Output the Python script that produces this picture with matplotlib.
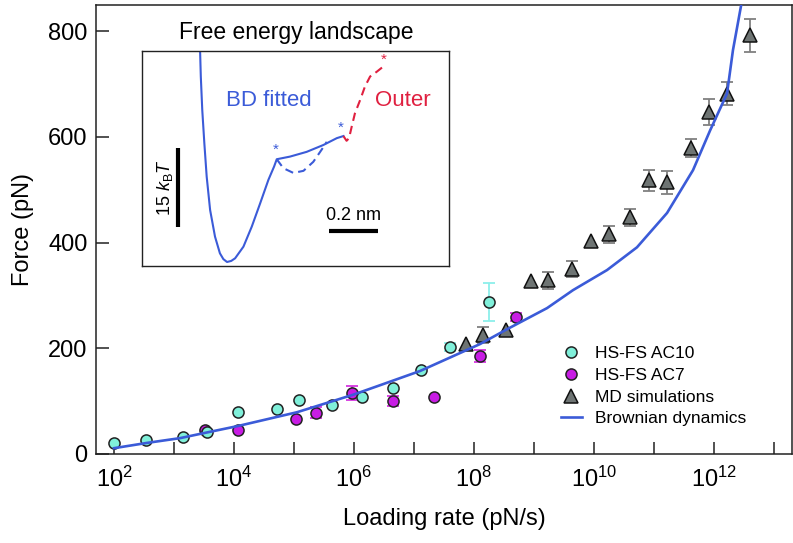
import matplotlib
matplotlib.use('Agg')
import matplotlib.pyplot as plt
import matplotlib.ticker as ticker
import numpy as np

plt.rcParams['font.family'] = ['Liberation Sans', 'DejaVu Sans']
plt.rcParams['mathtext.fontset'] = 'custom'
plt.rcParams['mathtext.rm'] = 'Liberation Sans'
plt.rcParams['mathtext.it'] = 'Liberation Sans:italic'

# data
x_ac10 = [1e2, 3.4e2, 1.4e3, 3.5e3, 1.17e4, 5.2e4, 1.2e5, 4.3e5, 1.36e6, 4.5e6, 1.3e7, 4.0e7, 1.78e8]
y_ac10 = [21, 26, 32, 42, 79, 85, 102, 93, 108, 125, 159, 202, 287]
e_ac10 = [0, 0, 0, 0, 0, 0, 0, 0, 0, 0, 0, 8, 36]

x_ac7 = [3.3e3, 1.17e4, 1.08e5, 2.3e5, 9.3e5, 4.5e6, 2.15e7, 1.26e8, 5.0e8]
y_ac7 = [45, 45, 66, 78, 115, 100, 108, 185, 259]
e_ac7 = [0, 0, 0, 10, 13, 9, 0, 11, 8]

x_md = [7.4e7, 1.41e8, 3.41e8, 8.9e8, 1.71e9, 4.3e9, 8.9e9, 1.78e10, 3.98e10,
        8.26e10, 1.65e11, 4.14e11, 8.26e11, 1.65e12, 3.98e12]
y_md = [208, 225, 234, 327, 329, 350, 403, 416, 448, 518, 514, 578, 647, 682, 792]
e_md = [0, 15, 0, 0, 16, 16, 0, 16, 16, 20, 22, 17, 25, 22, 31]

x_bd = [1e2, 3.55e2, 1.26e3, 3.29e3, 1.17e4, 1.12e5, 9.6e5, 2.7e6, 1.26e7, 1.26e8,
        3.55e8, 1.65e9, 4.47e9, 1.65e10, 5.2e10, 1.65e11, 4.47e11, 8.6e11, 1.65e12,
        2.07e12, 2.93e12]
y_bd = [11, 21, 30, 40, 53, 79, 112, 130, 157, 208, 236, 276, 310, 348, 391, 456,
        537, 612, 682, 764, 858]

# x ticks: labelled every second decade
major_ticks = [1e2, 1e4, 1e6, 1e8, 1e10, 1e12]
major_labels = ['$10^{2}$', '$10^{4}$', '$10^{6}$', '$10^{8}$', '$10^{10}$', '$10^{12}$']
minor_ticks = [1e3, 1e5, 1e7, 1e9, 1e11, 1e13]

# inset: free energy landscape (nm, kBT)
x_fit = [-0.110, -0.107, -0.101, -0.0925, -0.083, -0.069, -0.049, -0.029, -0.015, 0.0, 0.017,
         0.033, 0.067, 0.101, 0.135, 0.169, 0.192, 0.203, 0.257, 0.325, 0.393, 0.448, 0.475]
g_fit = [40.2, 35.2, 28.8, 22.5, 16.2, 9.87, 4.81, 1.65, 0.55, 0.0, 0.2,
         0.70, 2.91, 6.71, 11.1, 15.6, 18.1, 19.5, 20.0, 20.9, 22.2, 23.5, 23.9]
x_alt = [0.203, 0.230, 0.271, 0.312, 0.352, 0.386, 0.407]
g_alt = [19.5, 17.8, 16.9, 17.3, 19.0, 21.3, 22.8]
x_out = [0.475, 0.488, 0.498, 0.509, 0.522, 0.543, 0.563, 0.584, 0.611, 0.638]
g_out = [23.9, 23.0, 23.5, 25.7, 28.2, 30.7, 33.3, 35.2, 36.1, 37.1]
x_star_blue = [0.199, 0.465]
g_star_blue = [21.3, 25.4]
x_star_red = [0.638]
g_star_red = [38.3]

c_cyan = '#80F0DA'
c_mag = '#C81CE4'
c_grey = '#6E7473'
c_line = '#3B5BD8'
c_red = '#E02040'

W, H = 793, 543
fig = plt.figure(figsize=(W / 100, H / 100), dpi=100)
ax = fig.add_axes([96 / W, (H - 454) / H, (792 - 96) / W, (454 - 4.7) / H])

# error bars
for xs, ys, es, col in [(x_ac10, y_ac10, e_ac10, '#8CEFEA'),
                        (x_ac7, y_ac7, e_ac7, '#D535E0'),
                        (x_md, y_md, e_md, '#808080')]:
    xs, ys, es = np.array(xs), np.array(ys), np.array(es)
    m = es > 0
    ax.errorbar(xs[m], ys[m], yerr=es[m], fmt='none', ecolor=col, elinewidth=1.3,
                capsize=4.5, capthick=1.3, zorder=2)

ax.plot(x_ac7, y_ac7, 'o', ms=8, mfc=c_mag, mec='#222222', mew=1.1, ls='none',
        label='HS-FS AC7', zorder=3)
ax.plot(x_ac10, y_ac10, 'o', ms=8, mfc=c_cyan, mec='#222222', mew=1.1, ls='none',
        label='HS-FS AC10', zorder=4)
ax.plot(x_md, y_md, '^', ms=9.5, mfc=c_grey, mec='#111111', mew=1.1, ls='none',
        label='MD simulations', zorder=3)
ax.plot(x_bd, y_bd, '-', color=c_line, lw=1.9, label='Brownian dynamics', zorder=5)

ax.set_xscale('log')
ax.set_xlim(10 ** 1.7, 10 ** 13.3)
ax.set_ylim(0, 850)
ax.set_xticks(major_ticks)
ax.set_xticklabels(major_labels)
ax.set_xticks(minor_ticks, minor=True)
ax.xaxis.set_minor_formatter(ticker.NullFormatter())
ax.set_yticks([0, 200, 400, 600, 800])
ax.tick_params(which='both', direction='in', length=9, width=1.1, labelsize=17,
               color='#222222')
ax.tick_params(axis='x', which='both', pad=9)
ax.tick_params(axis='y', pad=6)
for s in ax.spines.values():
    s.set_linewidth(1.1)
    s.set_color('#222222')
ax.set_xlabel('Loading rate (pN/s)', fontsize=17, labelpad=12)
ax.set_ylabel('Force (pN)', fontsize=17, labelpad=10)

handles, labels = ax.get_legend_handles_labels()
order = [1, 0, 2, 3]
ax.legend([handles[i] for i in order], [labels[i] for i in order], loc='upper left',
          bbox_to_anchor=(561 / W, 1 - 346 / H), bbox_transform=fig.transFigure,
          frameon=False, fontsize=12.5, handlelength=1.2, handletextpad=0.75,
          labelspacing=0.38, borderpad=0, borderaxespad=0)

# inset
ai = fig.add_axes([142 / W, (H - 266) / H, 307 / W, 215 / H])
ai.set_xlim(-0.347, 0.906)
ai.set_ylim(-0.76, 40.04)
ai.set_xticks([])
ai.set_yticks([])
for s in ai.spines.values():
    s.set_linewidth(1.0)
    s.set_color('#222222')
ai.plot(x_fit, g_fit, color=c_line, lw=1.5)
ai.plot(x_alt, g_alt, color=c_line, lw=1.5, ls=(0, (4, 2.5)))
ai.plot(x_out, g_out, color=c_red, lw=1.5, ls=(0, (4, 2.5)))
for xs, gs, col in [(x_star_blue, g_star_blue, c_line), (x_star_red, g_star_red, c_red)]:
    for xv, gv in zip(xs, gs):
        ai.text(xv, gv, '*', color=col, fontsize=11, ha='center', va='center')
ai.text(0.169, 30.7, 'BD fitted', color=c_line, fontsize=16, ha='center', va='center')
ai.text(0.604, 30.7, 'Outer', color=c_red, fontsize=16, ha='left', va='center')
ai.plot([-0.199, -0.199], [6.6, 21.6], color='black', lw=3, solid_capstyle='butt')
ai.text(-0.253, 14.1, r'15 $k_{\mathrm{B}}T$', fontsize=13, rotation=90,
        ha='center', va='center')
ai.plot([0.416, 0.615], [5.95, 5.95], color='black', lw=3, solid_capstyle='butt')
ai.text(0.515, 8.8, '0.2 nm', fontsize=13, ha='center', va='center')
fig.text(296 / W, 1 - 32 / H, 'Free energy landscape', fontsize=16.5,
         ha='center', va='center')

fig.savefig('out.png', dpi=100)
